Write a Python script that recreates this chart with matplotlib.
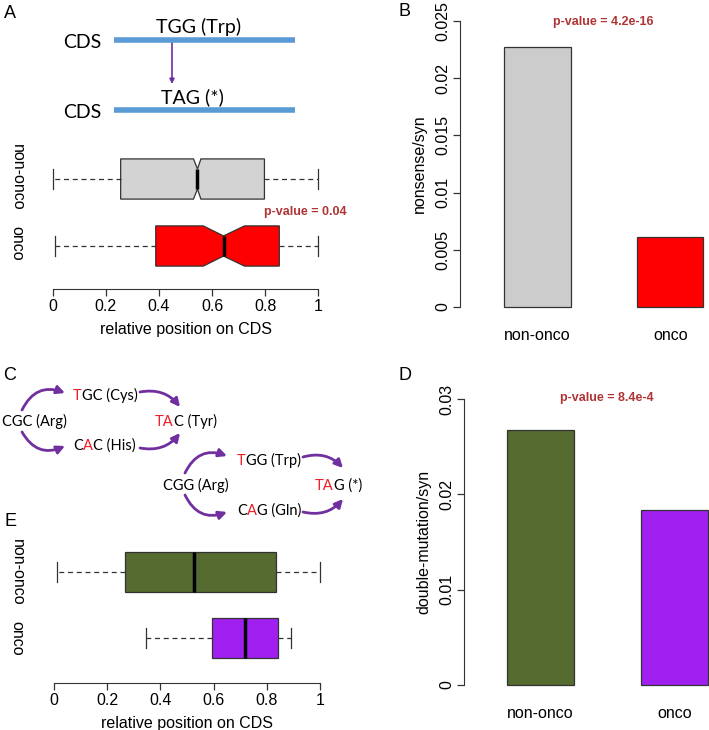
import numpy as np
import matplotlib
matplotlib.use("Agg")
import matplotlib.pyplot as plt
from matplotlib.patches import FancyArrowPatch
from matplotlib.font_manager import FontProperties, findfont, get_font

# ---- data ----
groups = ['non-onco', 'onco']

# panel A: relative position of nonsense mutations (box stats)
a_stats = {
    'non-onco': dict(whislo=0.0, q1=0.256, med=0.545, q3=0.797, whishi=1.0, cilo=0.530, cihi=0.558),
    'onco': dict(whislo=0.008, q1=0.388, med=0.643, q3=0.853, whishi=1.0, cilo=0.567, cihi=0.722),
}
a_pval = 'p-value = 0.04'

# panel B: nonsense/syn
b_vals = [0.0228, 0.0061]
b_ticks = [0, 0.005, 0.01, 0.015, 0.02, 0.025]
b_ticklabels = ['0', '0.005', '0.01', '0.015', '0.02', '0.025']
b_pval = 'p-value = 4.2e-16'

# panel D: double-mutation/syn
d_vals = [0.0268, 0.0184]
d_ticks = [0, 0.01, 0.02, 0.03]
d_ticklabels = ['0', '0.01', '0.02', '0.03']
d_pval = 'p-value = 8.4e-4'

# panel E: relative position of double mutations
e_stats = {
    'non-onco': dict(whislo=0.011, q1=0.267, med=0.527, q3=0.835, whishi=1.0),
    'onco': dict(whislo=0.345, q1=0.594, med=0.718, q3=0.842, whishi=0.891),
}

pos_ticks = [0, 0.2, 0.4, 0.6, 0.8, 1]
pos_ticklabels = ['0', '0.2', '0.4', '0.6', '0.8', '1']

# codon diagram (panel C): full codon label and which characters are red
codons_c = ['CGC (Arg)', 'TGC (Cys)', 'CAC (His)', 'TAC (Tyr)',
            'TGG (Trp)', 'CGG (Arg)', 'CAG (Gln)', 'TAG (*)']
red_chars = [[], [0], [1], [0, 1], [0], [], [1], [0, 1]]

# ---- styles ----
W, H = 709, 730
RFONT = 'Liberation Sans'
DFONT = 'Lato'
PCOL = '#B03434'
PURPLE = '#7030A0'
RED = '#EE1C25'
EDGE = '#333333'
colA = ['#D3D3D3', '#FF0000']
colB = ['#CCCCCC', '#FF0000']
colD = ['#556B2F', '#A020F0']
colE = ['#556B2F', '#A020F0']
TS = 11.5

plt.rcParams['font.family'] = [RFONT, 'DejaVu Sans']

fig = plt.figure(figsize=(W / 100, H / 100), dpi=100)
renderer = fig.canvas.get_renderer()


def px_axes(x0, y0, x1, y1):
    return fig.add_axes([x0 / W, 1 - y1 / H, (x1 - x0) / W, (y1 - y0) / H])


# overlay for diagrams and panel letters (pixel coords, y down)
ov = fig.add_axes([0, 0, 1, 1])
ov.set_xlim(0, W)
ov.set_ylim(H, 0)
ov.axis('off')

for lab, x, y in [('A', 10, 14), ('B', 405, 12), ('C', 10, 376), ('D', 405, 376), ('E', 10, 521)]:
    ov.text(x, y, lab, fontsize=13, ha='center', va='center', family=RFONT)


def arrow(p0, p1, rad, lw=2.0, ms=12):
    ov.add_patch(FancyArrowPatch(p0, p1, connectionstyle='arc3,rad=%g' % rad,
                                 arrowstyle='-|>', mutation_scale=ms, lw=lw,
                                 color=PURPLE, shrinkA=0, shrinkB=0))


def pen_positions(s, prop):
    # x pen position (pixels) of every glyph of s
    try:
        from matplotlib import _text_helpers
        font = get_font(findfont(prop))
        font.set_size(prop.get_size_in_points(), 100)
        return [it.x for it in _text_helpers.layout(s, font)]
    except Exception:
        w = lambda t: renderer.get_text_width_height_descent(t, prop, ismath=False)[0]
        return [0] + [w(s[:i + 1]) - w(s[i]) for i in range(1, len(s))]


def ctext(x, y, s, reds, size):
    # split into colour runs; place every run where it sits in the full string
    prop = FontProperties(family=DFONT, size=size)
    xs = pen_positions(s, prop)
    runs = []
    for i, ch in enumerate(s):
        red = i in reds
        if runs and runs[-1][1] == red:
            runs[-1][0] += ch
        else:
            runs.append([ch, red, i])
    for txt, red, i in runs:
        ov.text(x + xs[i], y, txt, color=RED if red else 'black', fontproperties=prop,
                ha='left', va='baseline')


# panel A diagram
for yy in [40, 110]:
    ov.plot([114, 295], [yy, yy], color='#5B9BD5', lw=4, solid_capstyle='butt')
    ov.text(82, yy + 2, 'CDS', fontsize=14, family=DFONT, ha='center', va='center')
ov.text(199, 27, 'TGG (Trp)', fontsize=14, family=DFONT, ha='center', va='center')
ov.text(192, 97, 'TAG (*)', fontsize=14, family=DFONT, ha='center', va='center')
arrow((172, 40), (172, 84), 0, lw=1.2, ms=7)

# panel C diagram (left x, baseline y)
cpos = [(2, 426), (73, 400), (73, 450), (155, 426), (237, 465), (163, 490), (237, 515), (315, 490)]
for (x, y), s, reds in zip(cpos, codons_c, red_chars):
    ctext(x, y, s, reds, 10.5)
arrow((22, 410), (65, 393), -0.45)
arrow((22, 432), (65, 446), 0.45)
arrow((140, 392), (180, 407), -0.3)
arrow((140, 448), (180, 433), 0.3)
arrow((185, 473), (227, 456), -0.45)
arrow((185, 495), (227, 512), 0.45)
arrow((303, 457), (343, 468), -0.3)
arrow((303, 512), (343, 499), 0.3)


def boxpanel(ax, stats, cols, notch):
    bstats = []
    for g in groups:
        s = dict(stats[g])
        s['fliers'] = []
        if not notch:
            s['cilo'] = s['med']
            s['cihi'] = s['med']
        bstats.append(s)
    ax.bxp(bstats, positions=[2, 1], widths=0.6, capwidths=0.3, orientation='horizontal',
           shownotches=notch, patch_artist=True, showfliers=False,
           boxprops=dict(edgecolor=EDGE, lw=0.9),
           whiskerprops=dict(color=EDGE, lw=0.9, linestyle=(0, (4, 3))),
           capprops=dict(color=EDGE, lw=0.9),
           medianprops=dict(color='black', lw=2.5, solid_capstyle='butt'))
    for p, c in zip(ax.patches, cols):
        p.set_facecolor(c)
    ax.set_xlim(-0.04, 1.04)
    for sp in ['top', 'right', 'left']:
        ax.spines[sp].set_visible(False)
    ax.spines['bottom'].set_bounds(0, 1)
    ax.spines['bottom'].set_color(EDGE)
    ax.set_xticks(pos_ticks, pos_ticklabels)
    ax.tick_params(axis='x', length=5, width=0.9, color=EDGE, labelsize=TS, pad=2)
    ax.set_yticks([])
    ax.set_xlabel('relative position on CDS', fontsize=TS, labelpad=6)
    ax.patch.set_alpha(0)


axA = px_axes(42, 137, 329, 289)
boxpanel(axA, a_stats, colA, True)
axA.set_ylim(0.358, 2.627)
axE = px_axes(43, 534, 331, 683)
boxpanel(axE, e_stats, colE, False)
axE.set_ylim(0.318, 2.576)

for yy, g in [(177, 'non-onco'), (243, 'onco'), (572, 'non-onco'), (638, 'onco')]:
    ov.text(17, yy, g, fontsize=TS, rotation=-90, ha='center', va='center', family=RFONT)
ov.text(305, 212, a_pval, fontsize=9, color=PCOL, weight='bold', ha='center', va='center', family=RFONT)


def barpanel(ax, vals, cols, ticks, labels, ylab, pval, ylim, xlim, ptxt):
    ax.bar([1.5, 3.5], vals, width=1.0, color=cols, edgecolor=EDGE, lw=0.9)
    ax.set_xlim(*xlim)
    ax.set_ylim(*ylim)
    for sp in ['top', 'right', 'bottom']:
        ax.spines[sp].set_visible(False)
    ax.spines['left'].set_bounds(ticks[0], ticks[-1])
    ax.spines['left'].set_color(EDGE)
    ax.set_yticks(ticks, labels)
    ax.tick_params(axis='y', length=5, width=0.9, color=EDGE, labelsize=TS, pad=2, labelrotation=90)
    for t in ax.get_yticklabels():
        t.set_va('center')
    ax.set_xticks([1.5, 3.5], groups)
    ax.tick_params(axis='x', length=0, labelsize=TS, pad=7)
    ax.set_ylabel(ylab, fontsize=TS, labelpad=6)
    ax.text(ptxt[0], ptxt[1], pval, fontsize=9, color=PCOL, weight='bold', ha='center', va='center')
    ax.patch.set_alpha(0)


axB = px_axes(460, 10, 709, 318)
barpanel(axB, b_vals, colB, b_ticks, b_ticklabels, 'nonsense/syn', b_pval,
         (-0.001, 0.026), (0.338, 4.083), (2.50, 0.02495))
axD = px_axes(464, 388, 709, 696)
barpanel(axD, d_vals, colD, d_ticks, d_ticklabels, 'double-mutation/syn', d_pval,
         (-0.0012, 0.0312), (0.358, 4.015), (2.49, 0.0301))

fig.savefig('out.png', dpi=100)
